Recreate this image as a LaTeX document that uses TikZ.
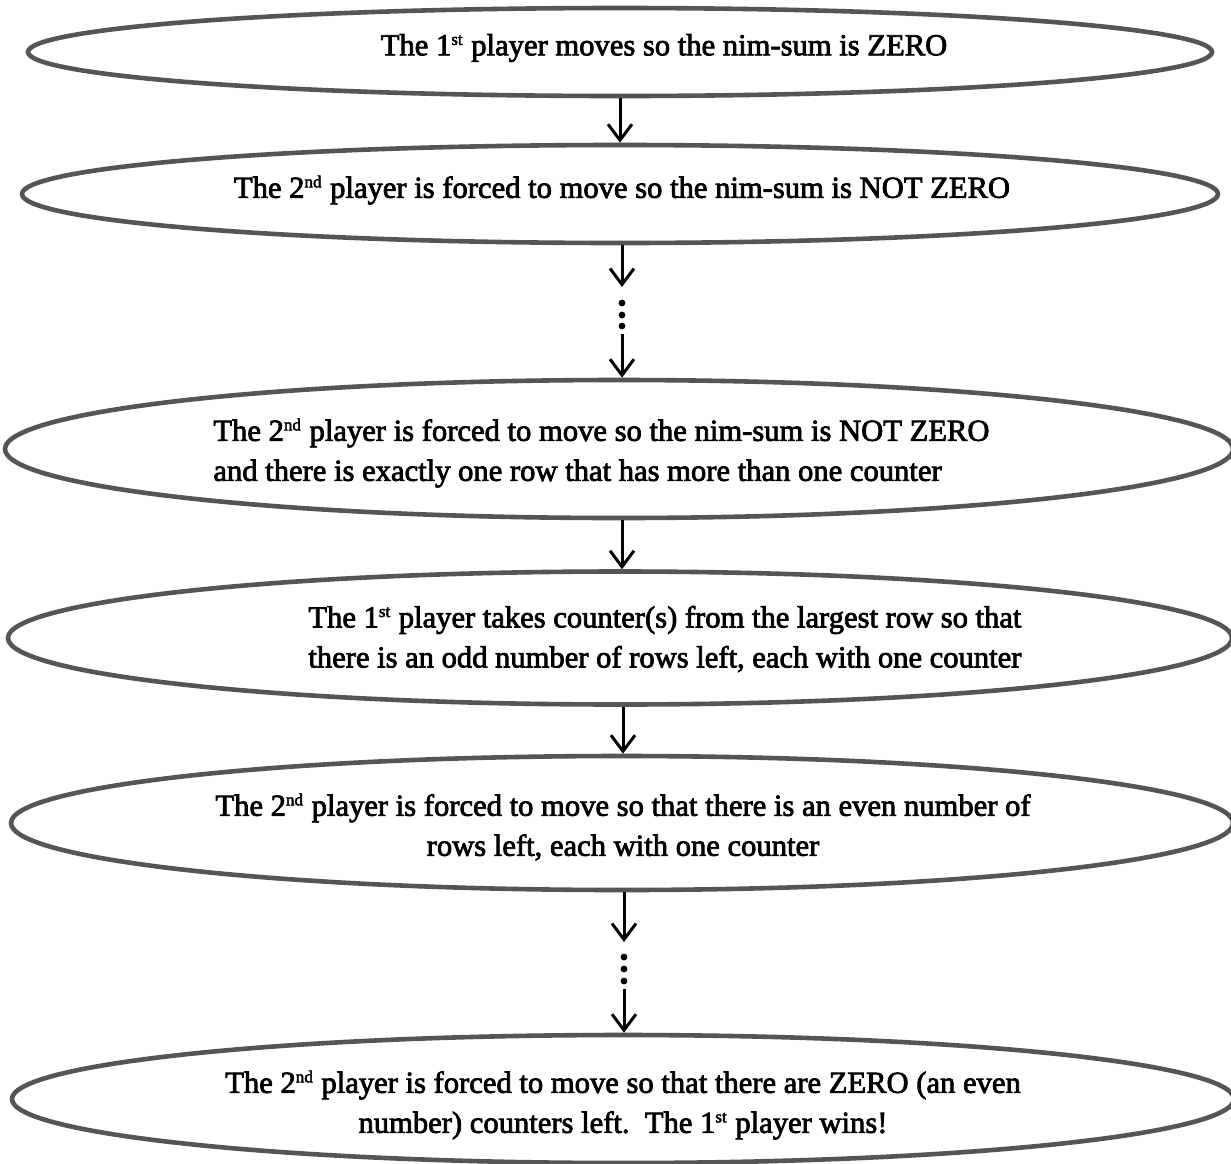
\documentclass[tikz,border=0pt]{standalone}
\usepackage{fontspec}
\setmainfont{Liberation Serif}[FakeBold=2.5]
\usetikzlibrary{shapes.geometric, arrows.meta}
\definecolor{ovalgray}{HTML}{555555}
\newcommand{\sups}[1]{\textsuperscript{\fontsize{8.5}{9}\selectfont #1}}
\begin{document}
\begin{tikzpicture}[x=0.5pt, y=-0.5pt,
  oval/.style={ellipse, draw=ovalgray, line width=2.3pt, inner sep=0pt},
  txt/.style={font=\fontsize{15.3}{20}\selectfont, inner sep=0pt, text=black},
  flow/.style={line width=1.5pt, -{Straight Barb[length=8pt,width=12pt,line width=1.5pt]}},
  dotmark/.style={circle, fill=black, inner sep=0pt, minimum size=3.4pt}]
\useasboundingbox[fill=white] (0,0) rectangle (1231,1163);

% ovals
\node[oval, minimum width=592pt, minimum height=44pt]   (e1) at (620,52)   {};
\node[oval, minimum width=598pt, minimum height=49pt]   (e2) at (620,194)  {};
\node[oval, minimum width=614pt, minimum height=69pt]   (e3) at (619,449)  {};
\node[oval, minimum width=612pt, minimum height=66.5pt] (e4) at (620,638)  {};
\node[oval, minimum width=611pt, minimum height=67pt]   (e5) at (622,823)  {};
\node[oval, minimum width=611pt, minimum height=64pt]   (e6) at (623,1099) {};

% texts
\node[txt] (t1) at (664,48) {The 1\sups{st} player moves so the nim-sum is ZERO};
\node[txt] (t2) at (622,190) {The 2\sups{nd} player is forced to move so the nim-sum is NOT ZERO};
\node[txt, anchor=west, align=left] (t3) at (213,453)
  {The 2\sups{nd} player is forced to move so the nim-sum is NOT ZERO\\
   and there is exactly one row that has more than one counter};
\node[txt, anchor=west, align=left] (t4) at (308,639)
  {\makebox[356.5pt][s]{The 1\sups{st} player takes counter(s) from the largest row so that}\\
   \makebox[356.5pt][s]{there is an odd number of rows left, each with one counter}};
\node[txt, align=center] (t5) at (623,827)
  {The 2\sups{nd} player is forced to move so that there is an even number of\\
   rows left, each with one counter};
\node[txt, align=center] (t6) at (623,1105)
  {The 2\sups{nd} player is forced to move so that there are ZERO (an even\\
   number) counters left.\ \ The 1\sups{st} player wins!};

% connectors
\draw[flow] (e1.south) -- (e2.north);

\coordinate (a2) at (622,287);
\coordinate (b2) at (622,334);
\node[dotmark] (d21) at (622,303) {};
\node[dotmark] (d22) at (622,315) {};
\node[dotmark] (d23) at (622,326) {};
\draw[flow] (e2.south -| a2) -- (a2);
\draw[flow] (b2) -- (e3.north -| b2);

\draw[flow] (e3.south -| 622,0) -- (e4.north -| 622,0);
\draw[flow] (e4.south -| 623,0) -- (e5.north -| 623,0);

\coordinate (a5) at (624,942);
\coordinate (b5) at (624,989);
\node[dotmark] (d51) at (624,957) {};
\node[dotmark] (d52) at (624,969) {};
\node[dotmark] (d53) at (624,981) {};
\draw[flow] (e5.south -| a5) -- (a5);
\draw[flow] (b5) -- (e6.north -| b5);
\end{tikzpicture}
\end{document}
